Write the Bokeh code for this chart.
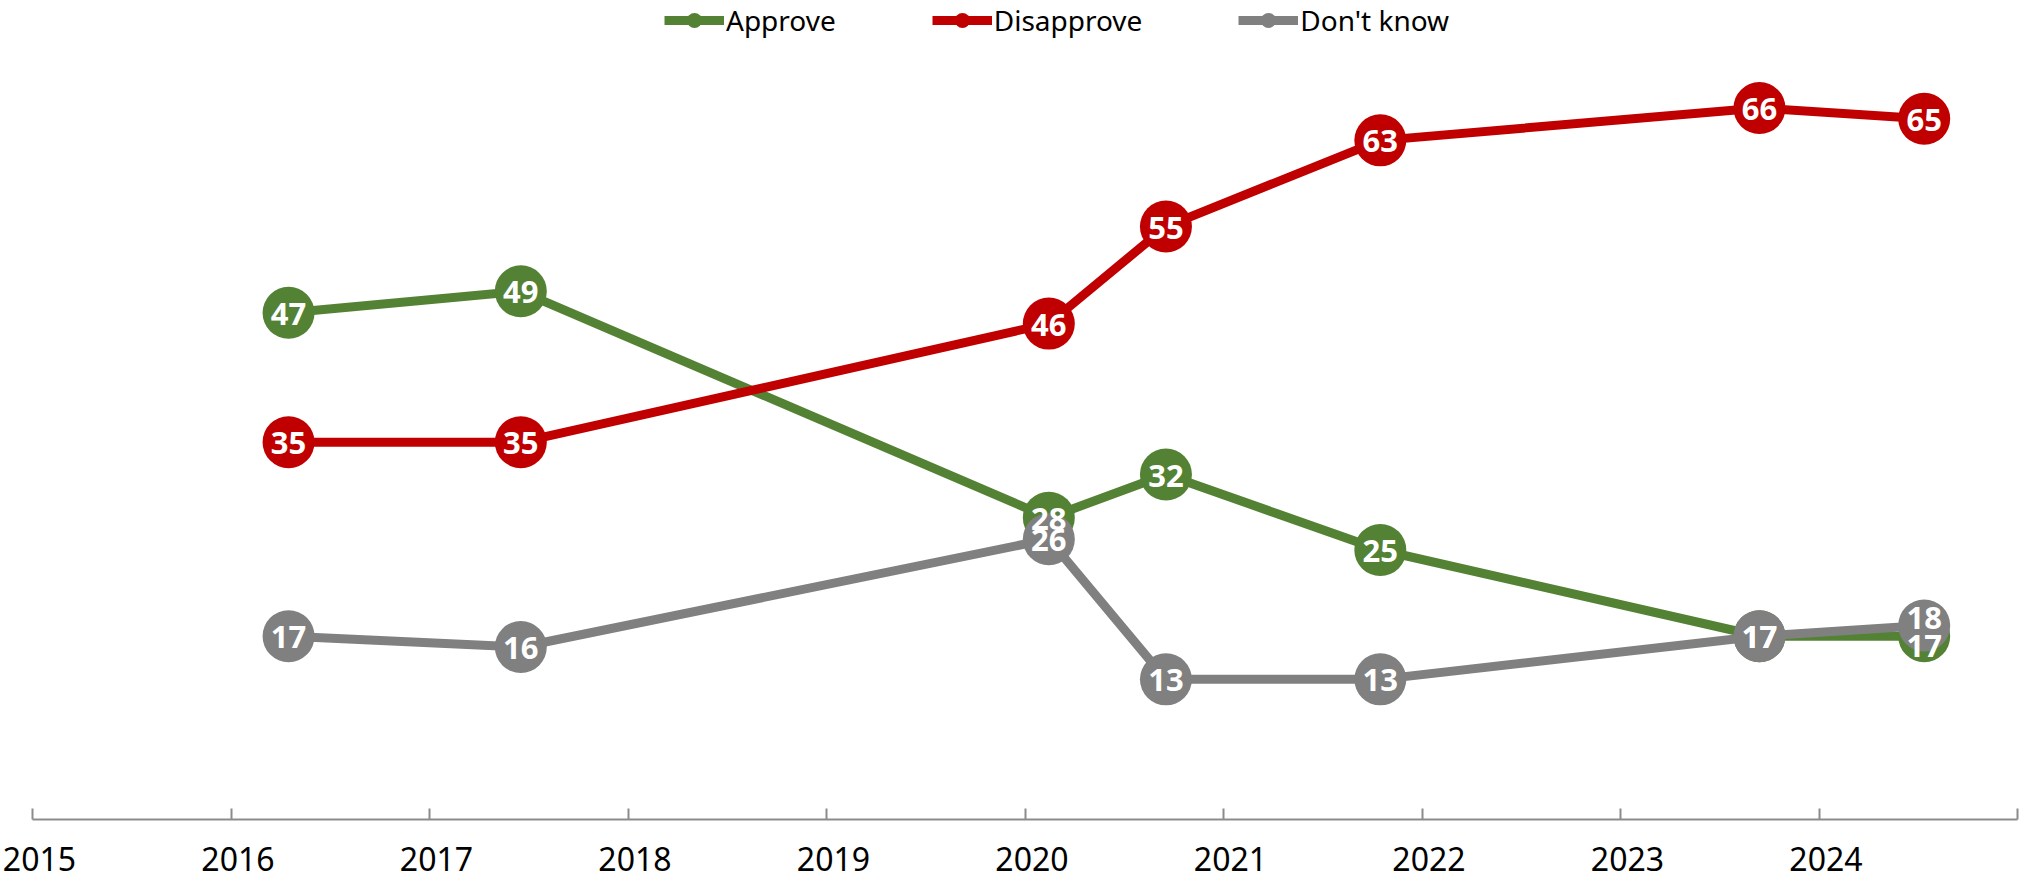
from bokeh.plotting import figure
from bokeh.models import (Range1d, FixedTicker, Legend, LegendItem, ColumnDataSource,
                          LinearAxis, CustomJSTickFormatter)
from bokeh.core.properties import value
from bokeh.embed import file_html
from bokeh.resources import INLINE

# ---- data (survey dates as decimal years) ----
dates = [2016.29, 2017.46, 2020.12, 2020.71, 2021.79, 2023.70, 2024.53]
approve = [47, 49, 28, 32, 25, 17, 17]
disapprove = [35, 35, 46, 55, 63, 66, 65]
dont_know = [17, 16, 26, 13, 13, 17, 18]
series_names = ["Approve", "Disapprove", "Don't know"]
tick_years = list(range(2015, 2026))
label_years = list(range(2015, 2025))

# ---- style ----
colors = {"Approve": "#548235", "Disapprove": "#C00000", "Don't know": "#808080"}
FONT = "Noto Sans"
PX_PER_UNIT = 10.78
FRAME_H = 819
LABEL_SHIFT = 0.035  # tick labels sit slightly right of their ticks, as in the original
# label nudges (screen px, + is down) where labels collide
nudges = {("Approve", 6): 9, ("Don't know", 6): -8}

p = figure(width=2023, height=886,
           x_range=Range1d(2015, 2025), y_range=Range1d(0, FRAME_H / PX_PER_UNIT),
           output_backend="svg", toolbar_location=None, y_axis_location=None,
           min_border_left=32, min_border_right=6, min_border_top=0, min_border_bottom=886 - FRAME_H,
           outline_line_color=None, background_fill_color="white", border_fill_color="white")
p.xgrid.visible = False
p.ygrid.visible = False

# axis line + ticks (no labels)
ax = p.xaxis[0]
ax.ticker = FixedTicker(ticks=tick_years)
ax.axis_line_color = "#8c8c8c"
ax.axis_line_width = 2
ax.major_tick_line_color = "#8c8c8c"
ax.major_tick_line_width = 2
ax.major_tick_in = 11
ax.major_tick_out = 0
ax.minor_tick_line_color = None
ax.major_label_standoff = 0
ax.major_label_text_color = None
ax.major_label_text_font_size = "0px"

# tick labels
lab_ax = LinearAxis(ticker=FixedTicker(ticks=[y + LABEL_SHIFT for y in label_years]),
                    formatter=CustomJSTickFormatter(code="return String(Math.round(tick))"),
                    axis_line_color=None, major_tick_line_color=None, minor_tick_line_color=None,
                    major_tick_in=0, major_tick_out=0, major_label_standoff=27,
                    major_label_text_font=FONT, major_label_text_font_size="32px",
                    major_label_text_color="black")
p.add_layout(lab_ax, "below")

data = {"Approve": approve, "Disapprove": disapprove, "Don't know": dont_know}
items = []
label_x, label_y, label_t, label_off = [], [], [], []
for name in series_names:
    vals = data[name]
    src = ColumnDataSource(dict(x=dates, y=vals))
    ln = p.line("x", "y", source=src, line_color=colors[name], line_width=9)
    sc = p.scatter("x", "y", source=src, size=52, fill_color=colors[name], line_color=None)
    items.append(LegendItem(label=name, renderers=[ln, sc]))
    for i, (xv, yv) in enumerate(zip(dates, vals)):
        label_x.append(xv)
        label_y.append(yv)
        label_t.append(str(yv))
        label_off.append(nudges.get((name, i), 0) + 1)

lsrc = ColumnDataSource(dict(x=label_x, y=label_y, t=label_t, off=label_off))
p.text("x", "y", text="t", source=lsrc, y_offset="off", text_align="center",
       text_baseline="middle", text_color="white", text_font=value(FONT),
       text_font_size="31px", text_font_style="bold")

LEG_H = 38
legend = Legend(items=items, orientation="horizontal", location=(632, FRAME_H - LEG_H - 1),
                glyph_width=60, glyph_height=LEG_H, label_standoff=2, spacing=96,
                padding=0, margin=0, border_line_color=None, background_fill_alpha=0,
                label_text_font=FONT, label_text_font_size="28px", label_text_color="black")
p.add_layout(legend)

open("out.html", "w").write(file_html(p, INLINE))
